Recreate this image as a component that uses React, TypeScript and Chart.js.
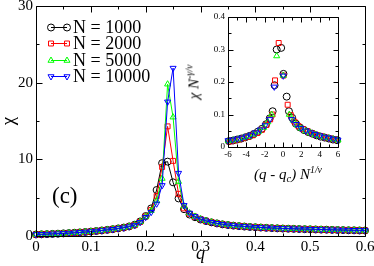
import React, { useEffect, useRef } from 'react';
import { Chart, registerables } from 'chart.js';
import { drawPoint } from 'chart.js/helpers';

Chart.register(...registerables);

const SERIF = '"Liberation Serif", "Times New Roman", serif';

// ---- main panel data ----
const qValues = [
  0.0, 0.01, 0.02, 0.03, 0.04, 0.05, 0.06, 0.07, 0.08, 0.09,
  0.1, 0.11, 0.12, 0.13, 0.14, 0.15, 0.16, 0.17, 0.18, 0.19,
  0.2, 0.21, 0.22, 0.23, 0.24, 0.25, 0.26, 0.27, 0.28, 0.29,
  0.3, 0.31, 0.32, 0.33, 0.34, 0.35, 0.36, 0.37, 0.38, 0.39,
  0.4, 0.41, 0.42, 0.43, 0.44, 0.45, 0.46, 0.47, 0.48, 0.49,
  0.5, 0.51, 0.52, 0.53, 0.54, 0.55, 0.56, 0.57, 0.58, 0.59, 0.6,
];

const chiN1000 = [
  0.2, 0.22, 0.24, 0.27, 0.3, 0.34, 0.38, 0.42, 0.47, 0.52,
  0.58, 0.65, 0.72, 0.8, 0.89, 0.99, 1.1, 1.25, 1.47, 1.9,
  2.6, 3.6, 6.0, 9.5, 9.7, 7.0, 4.9, 3.5, 2.8, 2.45,
  2.15, 1.95, 1.78, 1.64, 1.52, 1.43, 1.35, 1.29, 1.23, 1.18,
  1.14, 1.1, 1.06, 1.03, 1.0, 0.97, 0.95, 0.93, 0.91, 0.89,
  0.87, 0.85, 0.83, 0.82, 0.8, 0.78, 0.77, 0.75, 0.74, 0.72, 0.71,
];

const chiN2000 = [
  0.19, 0.21, 0.24, 0.26, 0.29, 0.33, 0.37, 0.42, 0.46, 0.52,
  0.58, 0.64, 0.72, 0.8, 0.88, 0.98, 1.09, 1.23, 1.44, 1.85,
  2.55, 3.4, 5.2, 9.0, 14.3, 9.8, 5.5, 3.6, 2.9, 2.5,
  2.2, 1.97, 1.8, 1.65, 1.53, 1.44, 1.36, 1.3, 1.24, 1.19,
  1.15, 1.11, 1.07, 1.04, 1.01, 0.98, 0.96, 0.94, 0.92, 0.9,
  0.88, 0.86, 0.84, 0.82, 0.8, 0.79, 0.77, 0.76, 0.74, 0.73, 0.72,
];

const chiN5000 = [
  0.21, 0.23, 0.25, 0.27, 0.31, 0.34, 0.38, 0.43, 0.47, 0.53,
  0.59, 0.66, 0.73, 0.81, 0.9, 0.99, 1.1, 1.24, 1.45, 1.85,
  2.5, 3.3, 4.6, 7.5, 19.8, 15.5, 7.1, 3.9, 3.0, 2.55,
  2.22, 1.99, 1.81, 1.66, 1.54, 1.45, 1.37, 1.31, 1.25, 1.2,
  1.16, 1.12, 1.08, 1.05, 1.02, 0.99, 0.97, 0.95, 0.93, 0.91,
  0.89, 0.87, 0.85, 0.83, 0.81, 0.8, 0.78, 0.77, 0.75, 0.74, 0.73,
];

const chiN10000 = [
  0.2, 0.22, 0.25, 0.28, 0.3, 0.34, 0.38, 0.42, 0.47, 0.52,
  0.58, 0.65, 0.72, 0.8, 0.88, 0.98, 1.08, 1.22, 1.42, 1.8,
  2.45, 3.1, 4.2, 6.6, 17.5, 21.9, 8.2, 4.0, 3.0, 2.55,
  2.22, 1.98, 1.8, 1.66, 1.54, 1.44, 1.37, 1.3, 1.25, 1.2,
  1.15, 1.11, 1.08, 1.05, 1.02, 0.99, 0.97, 0.95, 0.93, 0.91,
  0.89, 0.87, 0.85, 0.83, 0.81, 0.8, 0.78, 0.77, 0.75, 0.74, 0.73,
];

// ---- inset (scaling collapse) data ----
const insetX1000 = [-5.9, -5.45, -5.0, -4.55, -4.1, -3.65, -3.2, -2.75, -2.3, -1.85, -1.45, -1.13, -0.92, -0.69, -0.2, 0.05, 0.4, 0.65, 1.0, 1.4, 1.85, 2.3, 2.75, 3.2, 3.65, 4.1, 4.55, 5.0, 5.45, 5.9];
const insetY1000 = [0.018, 0.02, 0.023, 0.026, 0.03, 0.034, 0.04, 0.047, 0.056, 0.07, 0.088, 0.11, 0.19, 0.3, 0.305, 0.225, 0.155, 0.11, 0.09, 0.072, 0.06, 0.052, 0.046, 0.041, 0.036, 0.032, 0.029, 0.026, 0.023, 0.021];

const insetX2000 = [-5.8, -5.3, -4.8, -4.3, -3.8, -3.3, -2.8, -2.3, -1.8, -1.4, -1.15, -0.87, -0.47, 0.05, 0.51, 0.85, 1.25, 1.7, 2.2, 2.7, 3.2, 3.7, 4.2, 4.7, 5.2, 5.7];
const insetY2000 = [0.017, 0.02, 0.023, 0.027, 0.031, 0.036, 0.043, 0.053, 0.068, 0.085, 0.1, 0.205, 0.32, 0.22, 0.13, 0.098, 0.078, 0.064, 0.055, 0.048, 0.042, 0.037, 0.033, 0.029, 0.026, 0.023];

const insetX5000 = [-5.95, -5.4, -4.85, -4.3, -3.75, -3.2, -2.65, -2.1, -1.65, -1.24, -0.69, 0.03, 0.69, 1.1, 1.55, 2.0, 2.5, 3.0, 3.5, 4.0, 4.5, 5.0, 5.5, 6.0];
const insetY5000 = [0.019, 0.021, 0.024, 0.028, 0.032, 0.039, 0.048, 0.06, 0.077, 0.1, 0.28, 0.22, 0.1, 0.082, 0.067, 0.057, 0.049, 0.043, 0.038, 0.034, 0.03, 0.027, 0.024, 0.021];

const insetX10000 = [-6.0, -5.5, -5.0, -4.5, -4.0, -3.5, -3.0, -2.5, -1.95, -1.45, -0.95, 0.03, 0.95, 1.45, 1.95, 2.5, 3.0, 3.5, 4.0, 4.5, 5.0, 5.5, 6.0];
const insetY10000 = [0.02, 0.022, 0.025, 0.028, 0.032, 0.037, 0.044, 0.053, 0.066, 0.085, 0.185, 0.219, 0.085, 0.07, 0.058, 0.05, 0.044, 0.039, 0.035, 0.031, 0.028, 0.025, 0.022];

const seriesLabels = ['N = 1000', 'N = 2000', 'N = 5000', 'N = 10000'];
const seriesColors = ['#000000', '#ff0000', '#00ff00', '#0000ff'];
const seriesPointStyles = ['circle', 'rect', 'triangle', 'triangle'];
const seriesRotations = [0, 0, 0, 180];
const seriesOrder = [3, 2, 1, 0];

const mainSeries = [chiN1000, chiN2000, chiN5000, chiN10000];
const insetXs = [insetX1000, insetX2000, insetX5000, insetX10000];
const insetYs = [insetY1000, insetY2000, insetY5000, insetY10000];

const mainXTicks = { min: 0, max: 0.6, step: 0.1 };
const mainYTicks = { min: 0, max: 30, step: 10 };
const insetXTicks = { min: -6, max: 6, step: 2 };
const insetYTicks = { min: 0, max: 0.4, step: 0.1 };

function frameTicksPlugin(majorLen: number, minorLen: number) {
  return {
    id: 'frameTicks',
    afterDraw(chart: any) {
      const { ctx, chartArea: a } = chart;
      const xs = chart.scales.x;
      const ys = chart.scales.y;
      const r = (v: number) => Math.round(v) + 0.5;
      const L = r(a.left), R = r(a.right), T = r(a.top), B = r(a.bottom);
      ctx.save();
      ctx.strokeStyle = '#000';
      ctx.lineWidth = 1;
      ctx.beginPath();
      ctx.rect(L, T, R - L, B - T);
      const xt = xs.ticks.map((t: any) => t.value);
      const xstep = xt[1] - xt[0];
      xt.forEach((v: number) => {
        const p = r(xs.getPixelForValue(v));
        ctx.moveTo(p, B); ctx.lineTo(p, B - majorLen);
        ctx.moveTo(p, T); ctx.lineTo(p, T + majorLen);
        const m = v + xstep / 2;
        if (m < xs.max - 1e-9) {
          const pm = r(xs.getPixelForValue(m));
          ctx.moveTo(pm, B); ctx.lineTo(pm, B - minorLen);
          ctx.moveTo(pm, T); ctx.lineTo(pm, T + minorLen);
        }
      });
      const yt = ys.ticks.map((t: any) => t.value);
      const ystep = yt[1] - yt[0];
      yt.forEach((v: number) => {
        const p = r(ys.getPixelForValue(v));
        ctx.moveTo(L, p); ctx.lineTo(L + majorLen, p);
        ctx.moveTo(R, p); ctx.lineTo(R - majorLen, p);
        const m = v + ystep / 2;
        if (m < ys.max - 1e-9) {
          const pm = r(ys.getPixelForValue(m));
          ctx.moveTo(L, pm); ctx.lineTo(L + minorLen, pm);
          ctx.moveTo(R, pm); ctx.lineTo(R - minorLen, pm);
        }
      });
      ctx.stroke();
      ctx.restore();
    },
  };
}

const cornerLegendPlugin = {
  id: 'cornerLegend',
  afterDraw(chart: any) {
    const { ctx, chartArea: a } = chart;
    ctx.save();
    chart.data.datasets.forEach((ds: any, i: number) => {
      const y = Math.round(a.top + 21 + i * 16.3) + 0.5;
      const x0 = a.left + 15;
      const x1 = a.left + 31;
      ctx.strokeStyle = ds.borderColor;
      ctx.lineWidth = 1;
      ctx.beginPath();
      ctx.moveTo(x0, y);
      ctx.lineTo(x1, y);
      ctx.stroke();
      ctx.fillStyle = 'rgba(0,0,0,0)';
      const opts = { pointStyle: ds.pointStyle, rotation: ds.pointRotation, radius: ds.pointRadius, borderWidth: 1 };
      drawPoint(ctx, opts as any, x0, y);
      drawPoint(ctx, opts as any, x1, y);
      ctx.fillStyle = '#000';
      ctx.font = `18px ${SERIF}`;
      ctx.textBaseline = 'middle';
      ctx.textAlign = 'left';
      ctx.fillText(ds.label, a.left + 37, y + 1);
    });
    ctx.restore();
  },
};

export default function App() {
  const mainRef = useRef<HTMLCanvasElement>(null);
  const insetRef = useRef<HTMLCanvasElement>(null);

  useEffect(() => {
    const mainDatasets = mainSeries.map((arr, i) => ({
      label: seriesLabels[i],
      data: qValues.map((q, j) => ({ x: q, y: arr[j] })),
      borderColor: seriesColors[i],
      backgroundColor: 'rgba(0,0,0,0)',
      pointBackgroundColor: 'rgba(0,0,0,0)',
      pointBorderColor: seriesColors[i],
      pointStyle: seriesPointStyles[i],
      pointRotation: seriesRotations[i],
      pointRadius: 3.5,
      pointBorderWidth: 1,
      borderWidth: 1,
      tension: 0,
      showLine: true,
      clip: false,
      order: seriesOrder[i],
    }));

    const main = new Chart(mainRef.current as HTMLCanvasElement, {
      type: 'line',
      data: { datasets: mainDatasets as any },
      options: {
        responsive: false,
        animation: false,
        events: [],
        layout: { padding: { left: 0, right: 9, top: 6, bottom: 0 } },
        plugins: { legend: { display: false }, tooltip: { enabled: false } },
        scales: {
          x: {
            type: 'linear',
            min: mainXTicks.min,
            max: mainXTicks.max,
            ticks: { stepSize: mainXTicks.step, color: '#000', font: { family: SERIF, size: 15 }, padding: 2, maxRotation: 0, autoSkip: false },
            grid: { display: false, drawTicks: false },
            border: { display: false },
            title: { display: true, text: 'q', color: '#000', font: { family: SERIF, size: 18, style: 'italic', lineHeight: 1.2 }, padding: { top: 0, bottom: 1 } },
            afterFit(s: any) { s.height = 30; s.paddingLeft = 0; s.paddingRight = 0; },
          },
          y: {
            type: 'linear',
            min: mainYTicks.min,
            max: mainYTicks.max,
            ticks: { stepSize: mainYTicks.step, color: '#000', font: { family: SERIF, size: 15 }, padding: 3 },
            grid: { display: false, drawTicks: false },
            border: { display: false },
            title: { display: true, text: 'χ', color: '#000', font: { family: SERIF, size: 19, lineHeight: 1 }, padding: { top: 0, bottom: 0 } },
            afterFit(s: any) { s.width = 36; s.paddingTop = 0; s.paddingBottom = 0; },
          },
        },
      },
      plugins: [frameTicksPlugin(6, 3), cornerLegendPlugin],
    });

    const insetDatasets = insetXs.map((xs, i) => ({
      label: seriesLabels[i],
      data: xs.map((x, j) => ({ x, y: insetYs[i][j] })),
      borderColor: seriesColors[i],
      backgroundColor: 'rgba(0,0,0,0)',
      pointBackgroundColor: 'rgba(0,0,0,0)',
      pointBorderColor: seriesColors[i],
      pointStyle: seriesPointStyles[i],
      pointRotation: seriesRotations[i],
      pointRadius: 3.5,
      pointBorderWidth: 1,
      showLine: false,
      clip: false,
      order: seriesOrder[i],
    }));

    const inset = new Chart(insetRef.current as HTMLCanvasElement, {
      type: 'scatter',
      data: { datasets: insetDatasets as any },
      options: {
        responsive: false,
        animation: false,
        events: [],
        layout: { padding: { left: 0, right: 7, top: 9, bottom: 0 } },
        plugins: { legend: { display: false }, tooltip: { enabled: false } },
        scales: {
          x: {
            type: 'linear',
            min: insetXTicks.min,
            max: insetXTicks.max,
            ticks: { stepSize: insetXTicks.step, color: '#000', font: { family: SERIF, size: 9 }, padding: 2, maxRotation: 0, autoSkip: false },
            grid: { display: false, drawTicks: false },
            border: { display: false },
            afterFit(s: any) { s.height = 41; s.paddingLeft = 0; s.paddingRight = 0; },
          },
          y: {
            type: 'linear',
            min: insetYTicks.min,
            max: insetYTicks.max,
            ticks: { stepSize: insetYTicks.step, color: '#000', font: { family: SERIF, size: 9 }, padding: 3 },
            grid: { display: false, drawTicks: false },
            border: { display: false },
            afterFit(s: any) { s.width = 48; s.paddingTop = 0; s.paddingBottom = 0; },
          },
        },
      },
      plugins: [frameTicksPlugin(5, 3)],
    });

    return () => {
      main.destroy();
      inset.destroy();
    };
  }, []);

  return (
    <div style={{ position: 'relative', width: 374, height: 266, background: '#fff', overflow: 'hidden', fontFamily: SERIF }}>
      <style>{'body{margin:0}'}</style>
      <canvas ref={mainRef} width={374} height={266} style={{ position: 'absolute', left: 0, top: 0 }} />
      <canvas ref={insetRef} width={165} height={180} style={{ position: 'absolute', left: 180, top: 8 }} />
      <div style={{ position: 'absolute', left: 52, top: 184, fontSize: 23, lineHeight: '23px', color: '#000', whiteSpace: 'nowrap' }}>(c)</div>
      <div
        style={{
          position: 'absolute', left: 194, top: 82, transform: 'translate(-50%, -50%) rotate(-90deg)',
          fontSize: 15, lineHeight: '15px', fontStyle: 'italic', color: '#000', whiteSpace: 'nowrap',
        }}
      >
        χ N<sup style={{ fontSize: '0.65em', verticalAlign: '0.6em', lineHeight: 0 }}>-γ/ν</sup>
      </div>
      <div
        style={{
          position: 'absolute', left: 288, top: 174, transform: 'translate(-50%, -50%)',
          fontSize: 15, lineHeight: '15px', fontStyle: 'italic', color: '#000', whiteSpace: 'nowrap',
        }}
      >
        (q - q<sub style={{ fontSize: '0.7em', verticalAlign: '-0.3em', lineHeight: 0 }}>c</sub>) N<sup style={{ fontSize: '0.65em', verticalAlign: '0.6em', lineHeight: 0 }}>1/ν</sup>
      </div>
    </div>
  );
}
